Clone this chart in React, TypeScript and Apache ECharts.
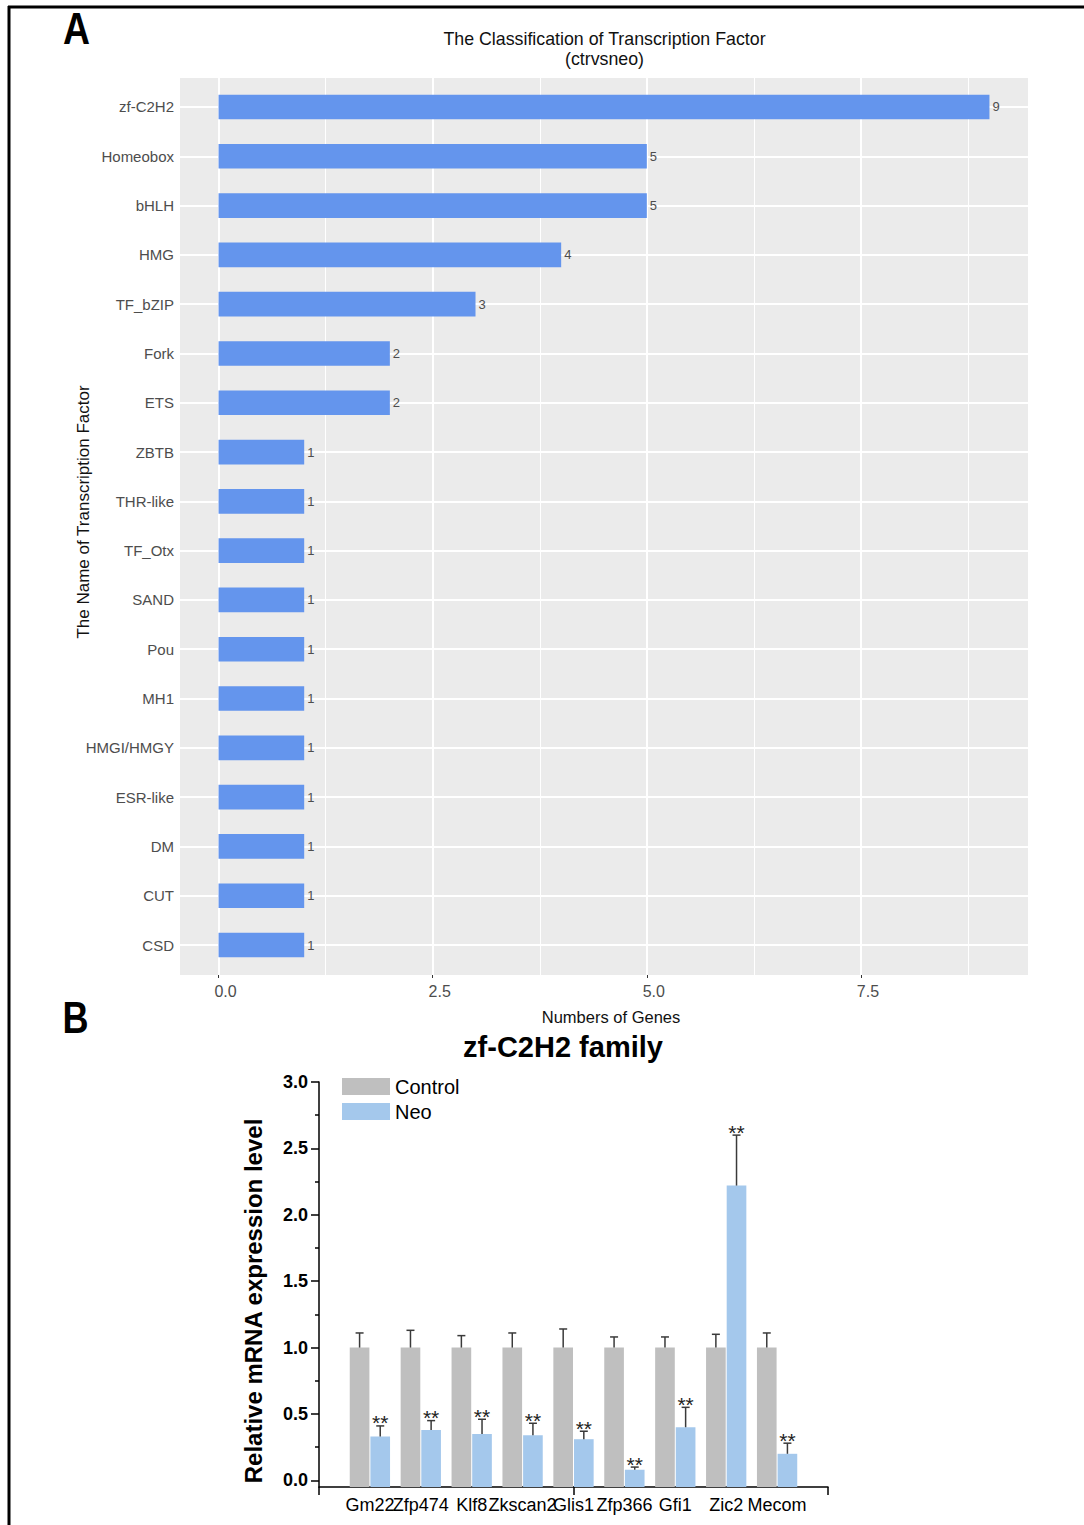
import React, { useEffect, useRef } from 'react';
import * as echarts from 'echarts';

// ---------- Panel A data ----------
const TF_NAMES = ['zf-C2H2', 'Homeobox', 'bHLH', 'HMG', 'TF_bZIP', 'Fork', 'ETS', 'ZBTB', 'THR-like', 'TF_Otx', 'SAND', 'Pou', 'MH1', 'HMGI/HMGY', 'ESR-like', 'DM', 'CUT', 'CSD'];
const TF_COUNTS = [9, 5, 5, 4, 3, 2, 2, 1, 1, 1, 1, 1, 1, 1, 1, 1, 1, 1];
const A_X_TICKS = [0, 2.5, 5, 7.5];
const A_X_MINOR = [1.25, 3.75, 6.25, 8.75];

// ---------- Panel B data ----------
const GENES = ['Gm22', 'Zfp474', 'Klf8', 'Zkscan2', 'Glis1', 'Zfp366', 'Gfi1', 'Zic2', 'Mecom'];
const CONTROL = [1, 1, 1, 1, 1, 1, 1, 1, 1];
const CONTROL_ERR = [0.11, 0.13, 0.09, 0.11, 0.14, 0.08, 0.08, 0.10, 0.11];
const NEO = [0.33, 0.38, 0.35, 0.34, 0.31, 0.08, 0.40, 2.22, 0.20];
const NEO_ERR = [0.08, 0.07, 0.11, 0.09, 0.06, 0.02, 0.15, 0.38, 0.08];
const NEO_SIG = ['**', '**', '**', '**', '**', '**', '**', '**', '**'];
const CONTROL_SIG = ['', '', '', '', '', '', '', '', ''];
const B_Y_TICKS = [0, 0.5, 1, 1.5, 2, 2.5, 3];
const B_Y_MINOR = [0.25, 0.75, 1.25, 1.75, 2.25, 2.75];
const B_X_TICKS = [-1, 4, 9];

const FONT = 'Liberation Sans, Arial, Helvetica, sans-serif';
const B_YMIN = -0.05;
const B_YMAX = 3;

const GENE_IDX_EVEN = GENES.map((_, i) => i).filter((i) => i % 2 === 0);
const GENE_IDX_ODD = GENES.map((_, i) => i).filter((i) => i % 2 === 1);

function makeBarRender(side: number, sigs: string[]) {
  return (params: any, api: any) => {
    const i = api.value(0);
    const v = api.value(1);
    const e = api.value(2);
    const top = api.coord([i, v]);
    const base = api.coord([i, B_YMIN]);
    const errTop = api.coord([i, v + e]);
    const unit = api.size([1, 0])[0];
    const w = unit * 0.386;
    const gap = 0.5;
    const x0 = side < 0 ? top[0] - w - gap : top[0] + gap;
    const cx = x0 + w / 2;
    const color = api.visual('color');
    const children: any[] = [
      { type: 'rect', shape: { x: x0, y: top[1], width: w, height: base[1] - top[1] }, style: { fill: color } },
      { type: 'line', shape: { x1: cx, y1: top[1], x2: cx, y2: errTop[1] }, style: { stroke: '#3a3a3a', lineWidth: 1.5 } },
      { type: 'line', shape: { x1: cx - 4, y1: errTop[1], x2: cx + 4, y2: errTop[1] }, style: { stroke: '#3a3a3a', lineWidth: 1.5 } },
    ];
    const sig = sigs[params.dataIndex];
    if (sig) {
      children.push({
        type: 'text',
        style: { text: sig, x: cx, y: errTop[1] - 3, align: 'center', verticalAlign: 'middle', fontSize: 21, fontFamily: FONT, fill: '#222' },
      });
    }
    return { type: 'group', children };
  };
}

function geneLabelAxis(values: number[], withLine: boolean) {
  return {
    gridIndex: 2, type: 'value', min: -1, max: 9, position: 'bottom', offset: 0,
    axisLine: { show: withLine, onZero: false, lineStyle: { color: '#000', width: 1.5 } },
    axisTick: withLine
      ? { show: true, customValues: B_X_TICKS, length: 8, lineStyle: { color: '#000', width: 1.5 } }
      : { show: false },
    axisLabel: {
      customValues: values, formatter: (v: number) => GENES[Math.round(v)] ?? '',
      color: '#000', fontSize: 18, margin: 9, fontFamily: FONT,
      showMinLabel: true, showMaxLabel: true, hideOverlap: false,
    },
    splitLine: { show: false },
  };
}

export default function App() {
  const ref = useRef<HTMLDivElement>(null);
  useEffect(() => {
    const chart = echarts.init(ref.current!, null, { renderer: 'svg' });
    const option: any = {
      animation: false,
      backgroundColor: '#ffffff',
      textStyle: { fontFamily: FONT },
      legend: {
        data: ['Control', 'Neo'],
        orient: 'vertical',
        left: 337,
        top: 1071.5,
        itemWidth: 48,
        itemHeight: 17,
        itemGap: 5,
        icon: 'rect',
        selectedMode: false,
        textStyle: { fontSize: 20, color: '#000', fontFamily: FONT },
      },
      grid: [
        { left: 180, top: 78, width: 848, height: 897, show: true, backgroundColor: '#EBEBEB', borderWidth: 0, outerBoundsMode: 'none', containLabel: false },
        { left: 180, top: 82.35, width: 848, height: 887.3, outerBoundsMode: 'none', containLabel: false },
        { left: 319, top: 1082, width: 509, height: 405, outerBoundsMode: 'none', containLabel: false },
      ],
      xAxis: [
        {
          gridIndex: 0, type: 'value', min: -0.45, max: 9.45,
          axisLine: { show: false, onZero: false },
          axisTick: { show: true, customValues: A_X_TICKS, length: 3, lineStyle: { color: '#333', width: 1 } },
          axisLabel: { customValues: A_X_TICKS, formatter: (v: number) => v.toFixed(1), color: '#4d4d4d', fontSize: 16, margin: 8, padding: [0, 0, 0, 14], fontFamily: FONT, hideOverlap: false },
          splitLine: { show: false },
        },
        { gridIndex: 1, type: 'value', min: -0.45, max: 9.45, show: false },
        geneLabelAxis(GENE_IDX_EVEN, true),
        geneLabelAxis(GENE_IDX_ODD, false),
      ],
      yAxis: [
        { gridIndex: 0, type: 'value', min: 0, max: 1, show: false },
        {
          gridIndex: 1, type: 'category', inverse: true, data: TF_NAMES, position: 'left',
          axisLine: { show: false },
          axisTick: { show: true, alignWithLabel: true, length: 3, lineStyle: { color: '#333', width: 1 } },
          axisLabel: { color: '#4d4d4d', fontSize: 15, margin: 6, fontFamily: FONT },
          splitLine: { show: false },
        },
        {
          gridIndex: 2, type: 'value', min: B_YMIN, max: B_YMAX, position: 'left',
          axisLine: { show: true, onZero: false, lineStyle: { color: '#000', width: 1.5 } },
          axisTick: { show: true, customValues: B_Y_TICKS, length: 8, lineStyle: { color: '#000', width: 1.5 } },
          axisLabel: { customValues: B_Y_TICKS, formatter: (v: number) => v.toFixed(1), color: '#000', fontSize: 18, fontWeight: 'bold', margin: 11, fontFamily: FONT, showMinLabel: true, showMaxLabel: true },
          splitLine: { show: false },
        },
        {
          gridIndex: 2, type: 'value', min: B_YMIN, max: B_YMAX, position: 'left', offset: 0,
          axisLine: { show: false, onZero: false },
          axisTick: { show: true, customValues: B_Y_MINOR, length: 4, lineStyle: { color: '#000', width: 1.5 } },
          axisLabel: { show: false },
          splitLine: { show: false },
        },
      ],
      series: [
        {
          name: 'gridA-x', type: 'line', xAxisIndex: 0, yAxisIndex: 0, data: [], silent: true, z: 1,
          markLine: {
            silent: true, z: 1, symbol: ['none', 'none'], label: { show: false },
            lineStyle: { color: '#ffffff', type: 'solid', width: 1 },
            data: [
              ...A_X_TICKS.map((v) => ({ xAxis: v, lineStyle: { width: 2, color: '#fff', type: 'solid' } })),
              ...A_X_MINOR.map((v) => ({ xAxis: v, lineStyle: { width: 1, color: '#fff', type: 'solid' } })),
            ],
          },
        },
        {
          name: 'gridA-y', type: 'line', xAxisIndex: 1, yAxisIndex: 1, data: [], silent: true, z: 1,
          markLine: {
            silent: true, z: 1, symbol: ['none', 'none'], label: { show: false },
            lineStyle: { color: '#ffffff', type: 'solid', width: 2 },
            data: TF_NAMES.map((n) => ({ yAxis: n })),
          },
        },
        {
          name: 'TF', type: 'bar', xAxisIndex: 1, yAxisIndex: 1, data: TF_COUNTS, barWidth: '50%', z: 3,
          itemStyle: { color: '#6495ED' },
          label: { show: true, position: 'right', distance: 3, color: '#4d4d4d', fontSize: 13, fontFamily: FONT },
        },
        {
          name: 'Control', type: 'custom', xAxisIndex: 2, yAxisIndex: 2,
          itemStyle: { color: '#BFBFBF' },
          encode: { x: 0, y: 1 },
          data: GENES.map((_, i) => [i, CONTROL[i], CONTROL_ERR[i]]),
          renderItem: makeBarRender(-1, CONTROL_SIG),
        },
        {
          name: 'Neo', type: 'custom', xAxisIndex: 2, yAxisIndex: 2,
          itemStyle: { color: '#A4C8EC' },
          encode: { x: 0, y: 1 },
          data: GENES.map((_, i) => [i, NEO[i], NEO_ERR[i]]),
          renderItem: makeBarRender(1, NEO_SIG),
        },
      ],
      graphic: [
        { type: 'line', shape: { x1: 8, y1: 7, x2: 1084, y2: 7 }, style: { stroke: '#000', lineWidth: 3 } },
        { type: 'line', shape: { x1: 9, y1: 6, x2: 9, y2: 1525 }, style: { stroke: '#000', lineWidth: 3 } },
        { type: 'text', x: 76.5, y: 29, scaleX: 0.85, style: { text: 'A', x: 0, y: 0, align: 'center', verticalAlign: 'middle', fontSize: 44, fontWeight: 'bold', fontFamily: FONT, fill: '#000' } },
        { type: 'text', x: 75.5, y: 1018, scaleX: 0.82, style: { text: 'B', x: 0, y: 0, align: 'center', verticalAlign: 'middle', fontSize: 44, fontWeight: 'bold', fontFamily: FONT, fill: '#000' } },
        { type: 'text', x: 604.5, y: 39, style: { text: 'The Classification of Transcription Factor', x: 0, y: 0, align: 'center', verticalAlign: 'middle', fontSize: 17.8, fontFamily: FONT, fill: '#111' } },
        { type: 'text', x: 604.5, y: 59, style: { text: '(ctrvsneo)', x: 0, y: 0, align: 'center', verticalAlign: 'middle', fontSize: 17.8, fontFamily: FONT, fill: '#111' } },
        { type: 'text', x: 611, y: 1017, style: { text: 'Numbers of Genes', x: 0, y: 0, align: 'center', verticalAlign: 'middle', fontSize: 16.5, fontFamily: FONT, fill: '#111' } },
        { type: 'text', x: 83, y: 512, rotation: Math.PI / 2, style: { text: 'The Name of Transcription Factor', x: 0, y: 0, align: 'center', verticalAlign: 'middle', fontSize: 17, fontFamily: FONT, fill: '#111' } },
        { type: 'text', x: 563, y: 1047, style: { text: 'zf-C2H2 family', x: 0, y: 0, align: 'center', verticalAlign: 'middle', fontSize: 29, fontWeight: 'bold', fontFamily: FONT, fill: '#000' } },
        { type: 'text', x: 253, y: 1301, rotation: Math.PI / 2, style: { text: 'Relative mRNA expression level', x: 0, y: 0, align: 'center', verticalAlign: 'middle', fontSize: 24, fontWeight: 'bold', fontFamily: FONT, fill: '#000' } },
      ],
    };
    chart.setOption(option);
    return () => chart.dispose();
  }, []);
  return <div ref={ref} style={{ position: 'absolute', left: 0, top: 0, width: 1084, height: 1525, background: '#fff' }} />;
}
